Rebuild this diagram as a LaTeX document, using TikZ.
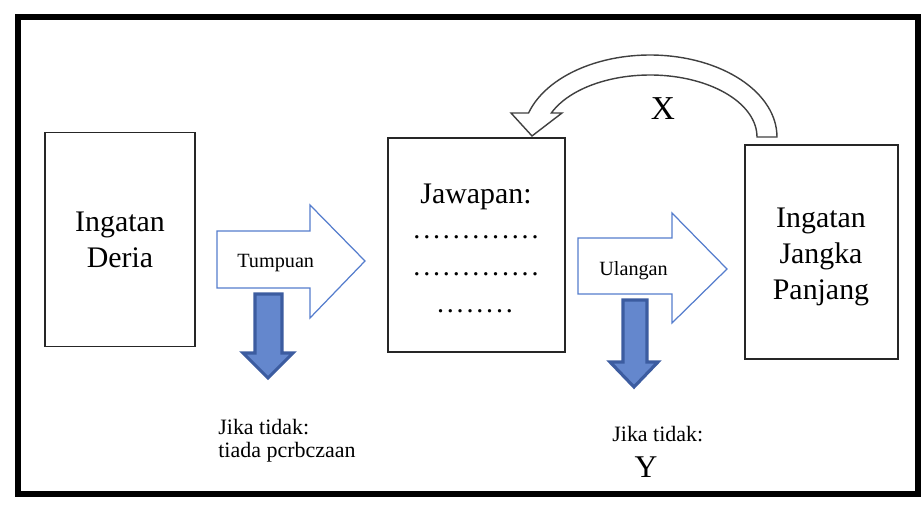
\documentclass[tikz,border=0pt]{standalone}
\usepackage{fontspec}
\setmainfont{Liberation Serif}
\usetikzlibrary{calc}
\definecolor{flowline}{RGB}{85,125,205}
\definecolor{dropfill}{RGB}{100,135,205}
\definecolor{dropedge}{RGB}{60,92,160}
\tikzset{
	membox/.style={draw=black!85, line width=0.8pt, minimum height=4.28cm, inner sep=0pt,
			align=center, font=\fontsize{17}{20.5}\selectfont},
	bigtext/.style={inner sep=0pt, align=center, font=\fontsize{17}{20.5}\selectfont},
	smalltext/.style={inner sep=0pt, font=\fontsize{11.5}{13}\selectfont},
	notetext/.style={inner sep=0pt, font=\fontsize{12.5}{13}\selectfont},
	dottext/.style={inner sep=0pt, font=\fontsize{16}{18}\selectfont},
	flowarrow/.style={draw=flowline, line width=0.7pt, fill=white, line join=miter},
	droparrow/.style={draw=dropedge, line width=1.8pt, fill=dropfill, line join=miter},
	turnarrow/.style={draw=black!75, line width=0.8pt, fill=white}
}
\newcommand\jdots[1]{\foreach \k in {1,...,#1}{\makebox[5.6pt]{.}}}

\begin{document}
\begin{tikzpicture}[x=0.02cm,y=-0.02cm]
	\useasboundingbox (0,0) rectangle (921,506);
	% outer frame
	\draw[line width=3.6pt] (18,17) rectangle (918,494);

	% the three stores
	\node[membox, minimum width=3cm] (deria) at (120,239.5) {Ingatan\\Deria};
	\node[membox, minimum width=3.54cm] (jawapan) at (476.5,245) {};
	\node[membox, minimum width=3.06cm] (panjang) at (821.5,252) {};
	\node[bigtext] (panjangtext) at (821,256.5) {Ingatan\\Jangka\\Panjang};

	\node[bigtext, anchor=base] (jtitle) at (476,204) {Jawapan:};
	\node[dottext, anchor=base] (jrow1) at (476,239) {\jdots{13}};
	\node[dottext, anchor=base] (jrow2) at (476,276) {\jdots{13}};
	\node[dottext, anchor=base] (jrow3) at (475,313) {\jdots{8}};

	% forward arrows
	\draw[flowarrow] (217,231) -- (310,231) -- (310,205) -- (365,261) -- (310,318) -- (310,288) -- (217,288) -- cycle;
	\node[smalltext, anchor=base west] (tumpuan) at (237,268) {Tumpuan};
	\draw[flowarrow] (578,238) -- (672,238) -- (672,213) -- (727,269) -- (672,323) -- (672,294) -- (578,294) -- cycle;
	\node[smalltext, anchor=base west] (ulangan) at (599,276) {Ulangan};

	% falling out
	\draw[droparrow] (255,294) -- (282,294) -- (282,353) -- (293,353) -- (268,378) -- (243,353) -- (255,353) -- cycle;
	\draw[droparrow] (623,300) -- (647,300) -- (647,362) -- (658,362) -- (634,387) -- (610,362) -- (623,362) -- cycle;

	\node[notetext, anchor=base west] (jika1) at (218,435) {Jika tidak:};
	\node[notetext, anchor=base west] (tiada) at (218,458) {tiada pcrbczaan};
	\node[notetext, anchor=base west] (jika2) at (612,442) {Jika tidak:};
	\node[inner sep=0pt, font=\fontsize{18}{20}\selectfont, anchor=base] (ylabel) at (646,478) {Y};

	% retrieval back to Jawapan
	\draw[turnarrow] plot[domain=0:-163, samples=60] ({650+127*cos(\x)},{137+82*sin(\x)})
		-- (511,113) -- (532,136) -- (562,113)
		-- plot[domain=-157.2:0, samples=60] ({650+107*cos(\x)},{137+62*sin(\x)}) -- cycle;
	\node[inner sep=0pt, font=\fontsize{19}{21}\selectfont, anchor=base] (xlabel) at (663,120) {X};
\end{tikzpicture}
\end{document}
